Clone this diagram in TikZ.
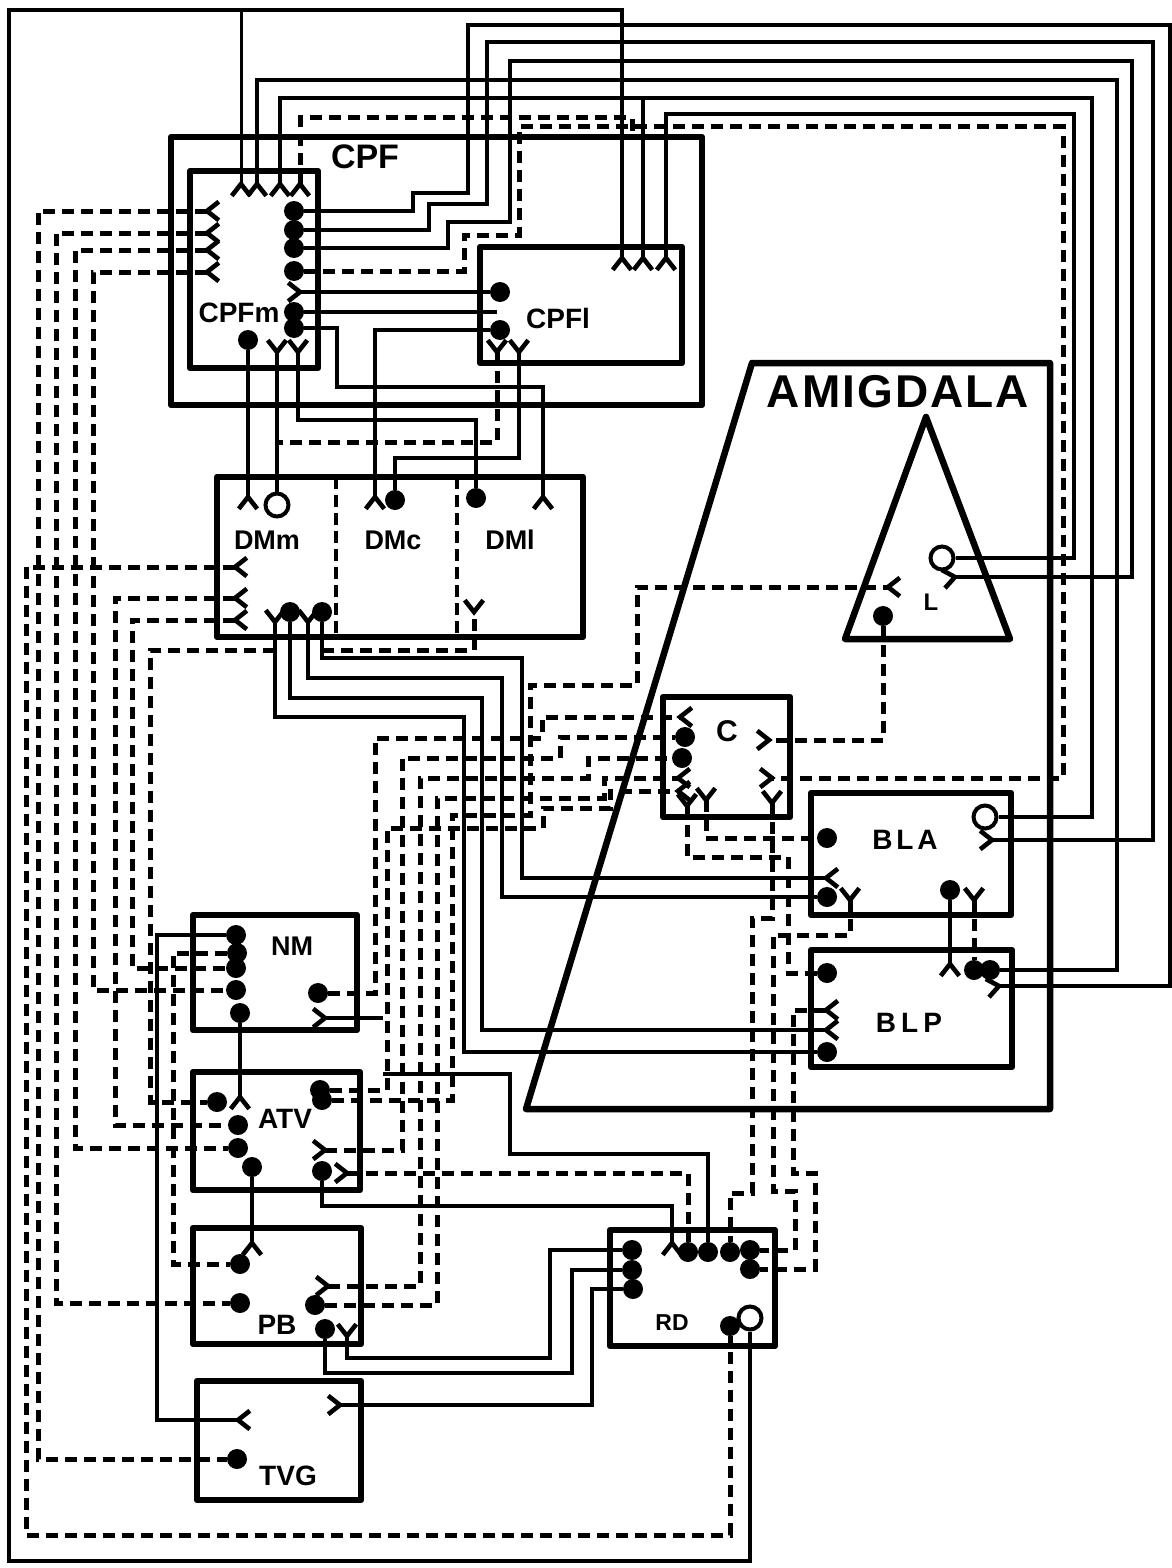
\documentclass[tikz,border=0pt]{standalone}
\usepackage{fontspec}
\setsansfont{Liberation Sans}
\usepackage{tikz}
\usetikzlibrary{positioning}

\begin{document}
\begin{tikzpicture}[x=1pt,y=-1pt,
    nucleus/.style={line width=6.5pt,line join=round},
    wire/.style={line width=4.6pt,line join=miter},
    dashwire/.style={line width=5pt,dash pattern=on 12pt off 7pt},
    soma/.style={circle,fill=black,inner sep=0pt,minimum size=20pt},
    bouton/.style={circle,draw=black,fill=white,line width=4pt,inner sep=0pt,minimum size=23pt},
    lab/.style={font=\sffamily\bfseries\fontsize{#1}{#1}\selectfont,inner sep=0pt},
    lab/.default=28]
  \useasboundingbox (0,0) rectangle (1171,1568);
  % Regions and nuclei
  \draw[nucleus] (171,137) rectangle (702,405);
  \draw[nucleus] (190,171) rectangle (318,368);
  \draw[nucleus] (480,247) rectangle (682,363);
  \draw[nucleus] (217,477) rectangle (583,637);
  \draw[nucleus] (193,915) rectangle (357,1030);
  \draw[nucleus] (193,1072) rectangle (360,1190);
  \draw[nucleus] (193,1228) rectangle (361,1344);
  \draw[nucleus] (197,1381) rectangle (361,1500);
  \draw[nucleus] (610,1230) rectangle (775,1346);
  \draw[nucleus] (663,697) rectangle (790,817);
  \draw[nucleus] (811,793) rectangle (1011,915);
  \draw[nucleus] (811,950) rectangle (1012,1067);
  \draw[nucleus] (752,363) -- (1050,363) -- (1050,1109) -- (526,1109) -- cycle;
  \draw[nucleus] (926,417) -- (1010,639) -- (845,639) -- cycle;
  \draw[line width=4pt,dash pattern=on 12pt off 6pt] (336,477) -- (336,637);
  \draw[line width=4pt,dash pattern=on 12pt off 6pt] (457,477) -- (457,637);
  % Labels
  \foreach \n/\x/\y/\s/\t in {lcpf/365/157/34/CPF, lcpfm/239/313/28/CPFm, lcpfl/558/318/28/CPFl,
      ldmm/267/540/27/DMm, ldmc/393/540/27/DMc, ldml/510/540/27/DMl, lnm/292/946/27/NM,
      latv/285/1119/28/ATV, lpb/277/1325/28/PB, ltvg/288/1476/28/TVG, lrd/672/1323/23/RD,
      lc/727/731/30/C, ll/931/602/24/L}{
    \node[lab=\s] (\n) at (\x,\y) {\t};
  }
  \node[lab=46] (lamig) at (898,392) {\addfontfeature{LetterSpace=4.5}AMIGDALA};
  \node[lab=28] (lbla) at (905,840) {\addfontfeature{LetterSpace=14}BLA};
  \node[lab=28] (lblp) at (909,1023) {\addfontfeature{LetterSpace=18}BLP};
  % Terminals: filled, open and forked
  \foreach \n/\x/\y in {fms1/294/211, fms2/294/230, fms3/294/248, fms4/294/271, fms5/294/312,
      fms6/294/328, fms7/248/340, cls1/500/292, cls2/500/330, dms1/395/500, dms2/476/498,
      dms3/290/612, dms4/322/612, nms1/236/935, nms2/237/953, nms3/236/968, nms4/236/990,
      nms5/240/1013, nms6/318/993, ats1/217/1102, ats2/238/1125, ats3/238/1148, ats4/252/1167,
      ats5/320/1090, ats6/322/1171, ats7/322/1100, pbs1/240/1264, pbs2/240/1303, pbs3/315/1305,
      pbs4/325/1329, tvs1/237/1459, cs1/685/737, cs2/682/758, las1/827/838, las2/827/897,
      las3/950/890, lps1/827/973, lps2/827/1052, lps3/974/970, lps4/990/970, ls1/883/616,
      rds1/632/1250, rds2/632/1270, rds3/633/1289, rds4/688/1252, rds5/708/1252, rds6/730/1252,
      rds7/750/1250, rds8/750/1269, rds9/730/1326}{
    \node[soma] (\n) at (\x,\y) {};
  }
  \foreach \n/\x/\y in {dmh/277/505, lh/942/558, lah/985/817, rdh/750/1318}{
    \node[bouton] (\n) at (\x,\y) {};
  }
  \foreach \n/\x/\y/\a in {fm1/241/184/270, fm2/257/184/270, fm3/280/184/270, fm4/300/184/270,
      fl1/207/211/0, fl2/207/233/0, fl3/207/250/0, fl4/207/272/0, fr5/300/292/180,
      fb1/277/352/90, fb2/298/352/90, cf1/622/258/270, cf2/643/258/270, cf3/666/258/270,
      cf4/497/352/90, cf5/519/352/90, df1/248/497/270, df2/375/497/270, df3/543/497/270,
      dl1/235/567/0, dl2/235/598/0, dl3/235/620/0, db1/275/622/90, db2/308/622/90, db3/474/612/90,
      nf1/325/1018/180, af1/240/1097/270, af2/325/1150/180, af3/347/1173/180, pf1/252/1243/270,
      pf2/328/1286/180, pf3/347/1336/90, tf1/238/1420/0, tf2/340/1405/180, c1/680/717/0,
      c4/678/778/0, c5/678/791/0, cy1/687/806/90, cy2/706/800/90, cr1/769/740/180, cr2/772/778/180,
      cr3/772/803/90, laf1/826/878/0, laf2/992/840/180, lay1/850/900/90, lay2/974/900/90,
      lpf1/950/964/270, lpf2/999/986/190, lpf3/826/1010/0, lpf4/826/1030/0, lf1/888/587/0,
      lf2/955/577/190, rf1/672/1243/270}{
    \coordinate (\n) at (\x,\y);
    \draw[wire] (\n) ++(\a+38:15pt) -- (\n) -- ++(\a-38:15pt);
  }
  % Free ends and branch points
  \coordinate (clstub) at (497,312);
  \coordinate (nmend) at (383,1018);
  \coordinate (atvend) at (383,1074);
  \coordinate (topj) at (241,10);
  \coordinate (fbj) at (643,98);
  \coordinate (gend) at (632,135);
  \coordinate (dmj) at (275,650);
  \coordinate (dmk) at (322,650);
  \coordinate (cpj) at (277,442);
  % Long solid fibres round the top
  \draw[wire] (cf1) -- (622,10) -- (9,10) -- (9,1561) -- (750,1561) -- (rdh);
  \draw[wire,line width=3pt] (fm1) -- (topj);
  \draw[wire] (lpf2) -- (1170,986) -- (1170,25) -- (468,25) -- (468,193) -- (413,193) -- (413,211) -- (fms1);
  \draw[wire] (laf2) -- (1153,840) -- (1153,42) -- (487,42) -- (487,204) -- (429,204) -- (429,230) -- (fms2);
  \draw[wire] (lf2) -- (1132,577) -- (1132,61) -- (510,61) -- (510,222) -- (448,222) -- (448,248) -- (fms3);
  \draw[wire] (fm2) -- (257,80) -- (1117,80) -- (1117,970) -- (lps4);
  \draw[wire] (fm3) -- (280,98) -- (1092,98) -- (1092,817) -- (lah);
  \draw[wire] (cf2) -- (fbj);
  \draw[wire] (cf3) -- (666,114) -- (1074,114) -- (1074,558) -- (lh);
  % CPF to DM
  \draw[wire] (fr5) -- (cls1);
  \draw[wire] (fms5) -- (clstub);
  \draw[wire] (fms6) -- (337,328) -- (337,387) -- (543,387) -- (df3);
  \draw[wire] (cls2) -- (375,330) -- (df2);
  \draw[wire] (fms7) -- (df1);
  \draw[wire] (fb1) -- (dmh);
  \draw[wire] (fb2) -- (298,420) -- (476,420) -- (dms2);
  \draw[wire] (cf5) -- (519,458) -- (395,458) -- (dms1);
  % DM to amygdala
  \draw[wire] (db1) -- (275,717) -- (464,717) -- (464,1052) -- (lps2);
  \draw[wire] (dms3) -- (290,698) -- (482,698) -- (482,1030) -- (lpf4);
  \draw[wire] (db2) -- (308,678) -- (502,678) -- (502,897) -- (las2);
  \draw[wire] (dms4) -- (322,658) -- (522,658) -- (522,878) -- (laf1);
  % Brainstem column
  \draw[wire] (nms1) -- (157,935) -- (157,1420) -- (tf1);
  \draw[wire] (nms5) -- (af1);
  \draw[wire] (nf1) -- (nmend);
  \draw[wire] (ats4) -- (pf1);
  \draw[wire] (ats6) -- (322,1206) -- (672,1206) -- (rf1);
  \draw[wire] (atvend) -- (510,1074) -- (510,1154) -- (708,1154) -- (rds5);
  \draw[wire] (pf3) -- (347,1358) -- (550,1358) -- (550,1250) -- (rds1);
  \draw[wire] (pbs4) -- (325,1373) -- (572,1373) -- (572,1270) -- (rds2);
  \draw[wire] (tf2) -- (592,1405) -- (592,1289) -- (rds3);
  \draw[wire] (las3) -- (lpf1);
  % Dashed fibres on the left
  \draw[dashwire] (fl1) -- (38,211) -- (38,1459) -- (tvs1);
  \draw[dashwire] (fl2) -- (56,233) -- (56,1303) -- (pbs2);
  \draw[dashwire] (fl3) -- (75,250) -- (75,1148) -- (ats3);
  \draw[dashwire] (fl4) -- (93,272) -- (93,990) -- (nms4);
  \draw[dashwire] (dl1) -- (26,567) -- (26,1535) -- (730,1535) -- (rds9);
  \draw[dashwire] (dl2) -- (115,598) -- (115,1125) -- (ats2);
  \draw[dashwire] (dl3) -- (132,620) -- (132,968) -- (nms3);
  \draw[dashwire] (dmj) -- (150,650) -- (150,1102) -- (ats1);
  \draw[dashwire] (nms2) -- (173,953) -- (173,1264) -- (pbs1);
  \draw[dashwire] (dmk) -- (474,650) -- (db3);
  % Dashed fibres round the top
  \draw[dashwire] (fms4) -- (464,271) -- (464,235) -- (519,235) -- (519,127) -- (1063,127) -- (1063,778) -- (cr2);
  \draw[dashwire] (fm4) -- (300,118) -- (632,118) -- (gend);
  \draw[dashwire] (cf4) -- (497,442) -- (cpj);
  % Dashed fibres through the middle
  \draw[dashwire] (nms6) -- (375,993) -- (375,738) -- (542,738) -- (542,717) -- (c1);
  \draw[dashwire] (af2) -- (402,1150) -- (402,758) -- (560,758) -- (560,737) -- (cs1);
  \draw[dashwire] (pf2) -- (420,1286) -- (420,778) -- (588,778) -- (588,758) -- (cs2);
  \draw[dashwire] (pbs3) -- (437,1305) -- (437,798) -- (604,798) -- (604,778) -- (c4);
  \draw[dashwire] (ats7) -- (452,1100) -- (452,815) -- (530,815) -- (530,685) -- (637,685) -- (637,587) -- (lf1);
  \draw[dashwire] (ats5) -- (387,1090) -- (387,828) -- (543,828) -- (543,808) -- (610,808) -- (610,791) -- (c5);
  \draw[dashwire] (af3) -- (688,1173) -- (rds4);
  % Dashed fibres on the right
  \draw[dashwire] (ls1) -- (883,740) -- (cr1);
  \draw[dashwire] (cy2) -- (706,838) -- (las1);
  \draw[dashwire] (cy1) -- (687,857) -- (788,857) -- (788,973) -- (lps1);
  \draw[dashwire] (cr3) -- (772,918) -- (752,918) -- (752,1193) -- (730,1193) -- (rds6);
  \draw[dashwire] (lay1) -- (850,935) -- (773,935) -- (773,1191) -- (795,1191) -- (795,1250) -- (rds7);
  \draw[dashwire] (lpf3) -- (793,1010) -- (793,1173) -- (815,1173) -- (815,1269) -- (rds8);
  \draw[dashwire] (lay2) -- (lps3);
\end{tikzpicture}
\end{document}
